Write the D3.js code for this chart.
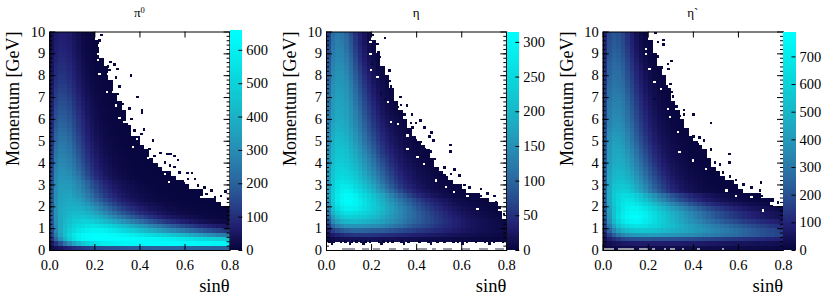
<!DOCTYPE html>
<html>
<head>
<meta charset="utf-8">
<script src="https://cdn.jsdelivr.net/npm/d3@7"></script>
<style>
  body { margin: 0; background: #fff; }
  svg { display: block; }
  text { font-family: "Liberation Serif", serif; fill: #000; }
</style>
</head>
<body>
<svg id="chart" width="830" height="297"></svg>
<script>
// counts per bin, top row is p = 9.8-10, each row starts at sinθ = 0. short rows = empty bins to the right
const pi0Counts = [
[32,58,68,68,58,42,26,13,6,3],
[33,60,71,70,60,44,28,14,7,3],
[35,63,74,73,63,46,30,15,7,3,1],
[37,66,78,76,66,49,32,17,8,4,1],
[40,70,82,80,70,52,34,18,9,4,2],
[42,74,87,85,74,56,37,20,10,5,2],
[44,79,92,90,79,60,40,23,11,6,3,1],
[46,83,97,95,83,64,44,26,13,7,4,2],
[48,87,101,100,87,68,47,28,15,8,4,2,1],
[50,92,106,106,92,72,51,31,17,9,5,3,1],
[53,97,112,111,97,76,55,34,19,10,6,3,2],
[56,103,119,117,103,81,59,38,22,12,7,4,2,1],
[60,110,127,125,110,87,64,42,25,14,8,5,3,1],
[64,117,135,132,117,93,69,47,28,16,9,6,3,2],
[68,125,144,141,125,100,75,52,32,19,11,7,4,2,1],
[72,132,152,149,133,107,81,57,36,22,13,8,5,3,2],
[76,140,161,158,142,114,87,62,40,25,15,9,6,4,2,1],
[80,148,170,166,150,122,94,67,44,28,17,10,7,4,3,1],
[85,155,178,174,158,129,100,72,48,31,19,12,7,5,3,2,1],
[89,162,186,182,166,136,106,77,52,34,21,13,8,5,3,2,1],
[93,170,195,191,174,144,113,83,57,37,23,15,9,6,4,2,2],
[98,178,205,200,183,152,120,89,62,41,26,17,10,7,4,3,2,1],
[103,187,215,210,192,160,127,95,67,45,29,19,12,8,5,3,2,1],
[108,196,225,220,201,168,135,101,73,50,33,22,14,9,6,4,3,2],
[113,205,235,230,210,177,143,108,79,54,37,25,16,10,7,5,3,2,1,1],
[118,215,245,240,220,186,151,116,85,60,41,28,18,12,8,5,4,2,2,1],
[122,224,255,249,230,196,160,124,92,66,46,32,21,14,9,6,4,3,2,1,1],
[127,233,265,258,240,206,169,132,100,72,51,36,24,16,11,7,5,3,2,2,1,1],
[132,242,274,268,250,216,179,141,108,79,57,40,28,19,13,9,6,4,3,2,1,1],
[137,252,283,278,262,228,190,151,117,87,63,45,32,22,15,10,7,5,3,2,2,1,1],
[142,261,291,287,272,240,202,161,126,95,70,50,36,25,18,12,8,6,4,3,2,1,1,1],
[150,270,300,298,285,252,215,173,137,105,78,57,42,30,21,14,10,7,5,3,2,2,1,1,1],
[157,278,310,308,296,265,230,187,150,115,88,66,48,35,25,17,12,9,6,4,3,2,2,1,1,1,1],
[165,285,320,318,310,283,250,205,168,130,100,76,58,43,31,22,16,12,8,6,4,3,2,2,1,1,1,1],
[170,290,328,328,322,300,272,235,198,158,128,100,78,60,47,35,26,20,15,11,8,6,4,3,2,2,1,1,1,1],
[172,293,335,337,332,312,286,250,213,172,142,113,90,71,56,43,33,26,20,15,11,8,6,4,3,2,2,1,1,1,1],
[176,297,342,347,345,326,302,268,232,192,160,130,105,84,67,53,41,32,25,19,14,11,8,6,4,3,2,2,1,1,1,1,1,1],
[180,300,348,357,358,342,320,288,254,216,182,150,123,100,81,65,51,41,32,25,19,15,11,8,6,5,3,3,2,1,1,1,1,1],
[184,304,353,365,371,362,345,315,283,248,214,180,150,125,103,84,68,55,44,35,27,21,16,12,9,7,5,4,3,2,2,1,1,1,1,1,1],
[188,308,358,372,382,380,370,350,322,292,258,222,190,162,137,115,96,80,66,54,44,35,28,22,17,13,10,7,5,4,3,2,2,1,1,1,1,1],
[190,312,363,380,394,398,394,380,360,335,303,268,235,205,178,152,130,110,94,80,66,55,45,37,30,24,18,14,11,8,6,5,4,3,2,2,1,1,1,1],
[190,313,368,390,408,418,420,412,397,378,350,318,284,252,224,196,172,150,130,112,96,82,69,58,48,40,32,26,21,16,13,10,8,6,5,4,3,2,2,1],
[188,310,370,400,422,440,448,447,438,424,402,375,345,312,284,256,230,206,184,163,143,125,108,93,80,68,57,48,40,33,27,22,18,14,11,9,7,6,4,3],
[182,305,372,410,438,465,480,490,490,482,468,448,424,396,368,340,315,288,264,242,220,198,178,158,140,124,109,95,82,71,60,51,43,36,30,25,20,16,13,10],
[172,296,370,418,458,492,518,535,544,548,545,535,518,498,474,450,426,402,378,354,330,308,285,263,242,222,203,185,168,152,138,124,111,99,88,78,69,60,53,46],
[160,285,370,430,480,520,555,580,597,606,610,606,596,580,562,540,520,498,476,454,432,410,388,366,345,325,305,286,268,250,233,217,201,186,172,158,146,134,123,112],
[142,260,360,440,505,560,600,628,640,645,648,648,645,640,632,622,612,600,588,574,560,545,530,514,498,482,465,448,430,412,394,376,358,340,322,305,288,272,256,240],
[110,210,310,400,480,540,590,620,640,648,650,650,650,650,650,650,648,646,644,640,636,630,625,618,612,604,596,587,578,568,558,548,536,524,512,500,488,476,462,450],
[55,105,165,235,300,360,415,460,500,530,555,575,590,600,610,615,620,625,628,630,632,634,635,636,637,637,636,635,634,633,632,631,630,628,626,624,622,620,618,615],
[15,30,45,62,78,95,110,122,133,142,150,157,163,168,172,176,180,183,186,188,190,192,194,195,196,197,198,198,199,199,200,200,200,200,200,200,200,200,200,200]
];

const etaCounts = [
[62,108,120,116,100,76,50,33,20,8],
[66,112,124,118,104,80,54,35,21,9],
[70,114,128,122,107,84,56,38,23,10,4],
[72,118,131,128,110,88,60,40,25,12,5],
[76,120,134,130,114,90,64,43,27,14,6],
[78,124,136,134,120,96,68,47,30,16,8,3],
[82,126,140,138,124,100,72,50,33,18,9,4],
[85,130,144,140,128,104,78,55,36,22,11,5],
[88,134,146,146,133,108,82,60,40,25,14,7,3],
[92,138,150,148,138,112,88,65,45,30,17,10,5],
[96,140,152,152,142,118,92,70,50,33,20,12,6,3],
[98,144,156,154,146,122,96,74,54,36,23,14,8,4],
[102,148,160,158,150,126,100,78,58,40,26,16,10,5],
[104,150,164,160,152,130,106,82,62,44,29,18,11,6,3],
[108,152,166,164,156,134,110,86,66,48,32,21,13,8,4],
[110,156,170,168,158,138,114,92,70,52,36,24,15,9,5],
[112,158,172,170,162,142,118,96,74,56,40,27,17,11,6,3],
[114,160,174,172,164,146,124,100,78,60,44,30,20,13,7,4],
[118,162,178,174,166,148,128,106,82,64,47,34,23,15,9,5,3],
[120,164,180,176,170,150,130,110,86,68,50,38,25,18,12,7,4],
[122,168,182,180,172,154,134,114,90,72,54,41,28,20,14,8,5,3],
[126,172,188,184,176,158,138,118,96,76,58,45,32,23,16,10,6,4],
[130,176,192,188,180,164,144,122,100,82,64,49,36,26,18,12,8,5,3],
[134,180,198,194,186,168,150,128,106,86,68,54,40,30,21,14,10,6,4],
[138,184,204,200,192,174,156,134,112,92,74,58,44,33,24,17,12,8,5,3],
[140,188,208,206,198,180,162,140,118,98,80,63,48,37,27,20,14,9,6,4,2],
[144,192,212,212,204,186,168,148,126,106,86,68,53,41,31,23,16,11,8,5,3,2],
[148,196,216,216,210,192,176,156,134,114,94,74,58,46,35,26,19,13,9,6,4,3,2],
[150,200,220,220,214,198,182,162,142,122,102,82,64,52,40,30,22,16,11,8,5,3,2],
[154,204,224,224,220,206,190,170,150,130,110,90,72,58,45,35,26,19,14,10,7,5,3,2],
[156,208,230,230,226,212,196,178,158,138,118,98,80,64,50,40,30,22,17,12,9,6,4,3],
[158,212,236,238,232,220,204,186,166,146,126,106,88,70,56,45,34,26,20,15,11,8,6,4,2],
[160,216,242,246,240,230,214,196,176,156,136,116,96,78,63,50,39,30,24,18,13,10,7,5,3,2],
[162,220,250,254,250,240,224,206,186,166,146,126,104,86,70,56,44,34,27,21,16,12,9,6,4,3,2],
[164,224,256,264,262,252,236,218,198,178,158,136,114,94,78,62,50,39,31,24,19,14,11,8,5,4,3,2],
[165,226,262,274,276,266,250,232,212,192,172,150,128,106,88,72,58,46,37,29,23,18,13,10,7,5,4,3,2,2],
[166,230,268,284,292,284,268,250,230,210,190,168,146,124,104,88,72,58,48,38,30,24,19,14,11,8,6,4,3,2,2],
[166,234,274,294,304,300,286,268,250,232,212,192,172,150,130,112,96,80,66,54,44,36,29,23,18,14,10,8,6,4,3,2,2,1],
[160,232,276,296,308,308,294,278,260,240,222,204,184,166,146,130,114,98,86,74,62,52,44,36,29,24,19,15,11,9,7,5,4,3,2,1],
[150,224,268,290,300,302,292,278,262,244,228,212,194,176,158,142,126,110,98,85,74,64,54,46,38,32,26,21,17,13,10,8,6,4,3,2,1,1],
[136,210,250,274,286,288,282,270,256,242,228,214,198,182,166,150,136,122,108,96,84,74,64,55,47,40,33,28,23,18,15,12,9,7,5,4,3,2],
[120,190,228,250,260,262,258,250,240,230,218,206,192,178,164,150,138,124,112,101,91,81,71,62,54,47,40,34,29,24,20,16,13,10,8,6,5,4,3],
[100,165,200,220,230,232,230,226,220,212,204,194,182,170,158,146,134,122,112,102,92,84,75,67,59,52,45,39,34,29,24,20,17,14,11,9,7,5,4],
[80,135,168,186,196,200,200,196,192,188,182,174,166,156,146,136,126,116,106,98,90,82,75,68,61,55,49,43,38,33,28,24,20,17,14,12,10,8,6,5],
[55,100,125,140,150,152,154,152,150,148,144,140,134,128,120,112,106,98,91,84,78,72,66,60,55,50,45,40,36,32,28,24,21,18,15,13,11,9,8,6],
[35,60,75,85,92,96,98,98,98,96,94,92,90,86,82,78,74,70,66,62,58,54,50,47,43,40,36,33,30,27,24,21,18,16,14,12,10,9,8,6],
[18,30,38,44,50,52,54,54,54,54,53,52,50,48,46,44,42,40,38,36,34,32,30,28,26,24,22,20,18,17,15,13,12,10,9,8,7,6,5,4],
[6,9,12,14,16,17,18,18,18,18,18,17,17,16,16,15,14,14,13,12,12,11,10,10,9,8,8,7,6,6,5,5,4,4,3,3,3,2,2,2],
[],
[]
];

const etaPrimeCounts = [
[92,180,208,198,168,122,80,42,20,8],
[96,186,214,204,174,128,84,45,22,9],
[100,192,220,210,180,134,90,50,25,10,4],
[104,198,228,218,188,142,96,55,28,12,5],
[108,206,234,226,196,150,102,60,32,15,7],
[112,214,242,234,206,158,110,68,38,19,9,4],
[118,222,250,242,216,168,120,76,44,23,11,5],
[122,230,258,250,224,176,128,84,50,27,14,7],
[126,236,264,258,232,184,136,92,58,32,18,9,4],
[130,242,272,266,242,192,146,100,65,38,22,12,6],
[134,248,278,272,250,200,154,108,72,43,26,14,7,3],
[138,256,286,280,258,210,162,116,78,48,30,17,9,4],
[142,264,294,288,266,218,170,124,86,54,34,20,11,5],
[148,272,302,296,274,228,178,132,94,60,38,23,13,7,3],
[152,280,312,306,284,238,188,140,100,68,43,27,15,9,4],
[156,288,320,316,292,248,196,148,108,75,48,31,18,11,5],
[160,294,328,324,300,256,206,156,116,82,54,35,22,13,7,3],
[164,300,334,332,308,264,214,164,122,88,59,39,25,16,9,4],
[168,306,340,340,316,272,222,172,128,94,64,44,28,18,11,6,3],
[172,314,348,348,324,280,230,180,136,100,70,48,32,21,13,8,4],
[176,322,356,356,332,288,240,188,144,106,76,53,36,24,15,9,5,3],
[182,332,368,366,344,298,250,198,152,114,82,58,40,27,17,11,6,4],
[188,344,380,378,356,310,262,208,162,122,90,64,44,30,20,13,8,5,3],
[194,356,394,392,370,324,274,220,172,132,98,70,50,34,23,15,10,6,4],
[200,368,408,406,384,338,288,232,184,142,106,78,56,39,27,18,12,8,5,3],
[204,378,420,420,398,352,302,246,196,154,116,86,62,44,31,21,14,9,6,4,2],
[208,386,430,432,412,368,318,262,210,166,128,96,70,50,36,25,17,11,7,5,3,2],
[212,392,440,442,426,384,334,278,226,180,140,106,78,57,41,29,20,14,9,6,4,3,2],
[216,398,446,450,436,398,350,294,242,194,152,116,88,64,47,34,24,17,11,8,5,4,3],
[220,404,454,458,446,410,364,310,258,208,166,128,98,72,54,39,28,20,14,10,7,5,3,2],
[224,412,464,470,460,424,380,328,276,226,182,142,108,82,62,46,34,24,17,12,9,6,4,3],
[228,420,476,484,476,442,398,346,294,244,198,158,122,94,70,53,39,29,21,15,11,8,6,4,2],
[232,428,488,500,494,462,420,368,316,264,216,174,138,106,80,61,46,34,25,19,14,10,7,5,3,2],
[238,436,502,516,514,484,444,392,340,286,236,192,154,120,92,71,54,40,30,23,17,12,9,6,4,3,2],
[242,444,516,536,536,510,470,418,366,310,258,212,172,136,106,82,63,48,36,27,20,15,11,8,6,4,3,2,1],
[248,450,530,556,562,538,500,448,396,338,284,236,192,154,122,95,74,57,43,33,25,19,14,10,7,5,4,3,2,1],
[254,456,546,580,592,572,536,484,430,370,314,262,216,176,140,110,87,68,52,40,30,23,17,13,10,7,5,4,3,2,1],
[258,462,560,610,640,640,620,580,530,470,420,370,320,280,240,205,175,150,125,105,88,73,60,49,40,32,26,20,16,13,10,8,6,4,3],
[250,450,560,620,660,668,655,620,575,525,475,425,375,330,288,250,218,190,164,140,120,102,86,72,60,50,41,34,27,22,18,14,11,9,7,5,4,3],
[240,435,550,622,670,695,695,675,640,600,555,508,462,418,376,338,302,270,240,212,187,165,145,126,110,95,82,70,60,51,43,36,30,25,20,16,13],
[228,420,535,620,680,720,730,725,700,665,625,582,540,497,456,418,382,348,316,286,259,234,211,190,170,152,135,120,106,93,81,71,61,53,45,38,32,27,22,18],
[218,408,535,630,695,738,755,755,735,705,670,630,590,550,512,475,440,406,374,344,316,290,265,242,220,200,181,164,148,133,119,106,94,83,73,64,56,49,43,37],
[208,398,535,638,708,750,772,778,755,718,682,642,602,562,525,488,452,418,385,355,325,298,272,248,226,205,186,168,152,137,123,110,98,87,77,68,60,53,47,42],
[190,365,500,600,672,720,740,745,728,700,668,634,600,565,532,498,466,436,407,380,354,330,307,285,265,246,228,211,195,180,166,153,141,130,119,109,100,92,84,76],
[160,305,430,520,585,630,655,665,660,645,628,608,585,560,536,512,488,465,443,420,399,378,358,339,320,302,285,268,252,237,222,208,195,182,170,159,148,138,128,119],
[125,240,340,420,475,515,540,552,555,552,545,535,522,508,494,480,465,450,435,420,405,390,375,360,345,330,315,300,286,272,258,245,232,220,208,196,185,174,164,154],
[80,160,235,295,340,370,390,402,408,410,410,408,404,398,392,385,378,370,362,354,346,338,329,320,310,300,290,280,270,260,250,240,230,220,210,200,190,180,172,164],
[40,80,115,145,170,185,195,200,204,206,206,205,204,202,200,198,195,192,188,184,180,176,172,167,162,157,152,147,142,137,132,127,122,117,112,107,102,98,94,90],
[18,32,45,56,64,70,74,76,78,78,78,78,78,77,76,75,74,73,72,71,70,68,66,64,62,60,58,56,54,52,50,48,46,44,42,40,38,36,34,32],
[8,12,15,18,20,21,22,23,23,23,24,24,24,24,24,24,24,24,24,23,23,23,22,22,22,21,21,20,20,19,19,18,18,17,17,16,16,15,14,14]
];

// lone bins past the edge of the populated region, [sinθ, p]
const pi0Strays = [[.225,9.8],[.218,9.54],[.21,9.2],[.225,8.55],[.267,8.55],[.284,8.44],[.296,8.24],[.262,8.2],[.255,8.35],[.24,8.25],[.29,7.86],[.356,7.95],[.307,7.45],[.30,7.1],[.385,6.95],[.406,6.34],[.406,6.23],[.32,6.64],[.35,6.44],[.358,5.95],[.373,5.42],[.415,5.47],[.403,5.27],[.455,4.96],[.44,4.58],[.462,4.27],[.487,4.4],[.52,4.35],[.533,4.35],[.55,4.27],[.566,4.07],[.507,3.97],[.53,3.82],[.55,3.75],[.573,3.51],[.607,3.47],[.628,3.47],[.61,3.2],[.64,3.2],[.655,2.9],[.684,2.82],[.714,2.67],[.692,2.52],[.756,2.44],[.776,2.64],[.788,2.29],[.729,2.37]];

const etaStrays = [[.257,9.65],[.202,9.8],[.224,9.39],[.21,9.16],[.227,9],[.232,8.78],[.195,8.47],[.224,8.32],[.246,8.24],[.276,8.17],[.261,7.86],[.276,7.7],[.283,7.45],[.283,7.25],[.239,7.13],[.257,6.87],[.29,6.8],[.325,6.95],[.305,6.64],[.328,6.6],[.354,6.56],[.313,6.49],[.298,6.38],[.342,6.15],[.375,6.15],[.413,5.88],[.394,5.77],[.372,5.77],[.431,5.57],[.379,5.57],[.463,5.34],[.453,5.16],[.472,4.96],[.546,4.76],[.546,4.46],[.46,4.46],[.434,4.55],[.416,4.89],[.394,4.96],[.475,4.12],[.453,3.89],[.52,3.74],[.564,3.63],[.549,3.44],[.52,3.36],[.586,3.36],[.608,2.93],[.63,2.82],[.682,2.75],[.711,2.55],[.741,2.44],[.682,2.44],[.66,2.21],[.748,2.14],[.763,1.91],[.711,1.91],[.785,1.6],[.77,1.37],
[.01,.35],[.03,.35],[.06,.35],[.08,.35],[.11,.35],[.13,.35],[.15,.35],[.17,.35],[.19,.35],[.23,.35],[.25,.35],[.27,.35],[.29,.35],[.33,.35],[.36,.35],[.41,.35],[.45,.35],[.49,.35],[.52,.35],[.56,.35],[.58,.35],[.62,.35],[.66,.35],[.70,.35],[.74,.35],[.78,.35],[.02,.25],[.10,.25],[.16,.25],[.24,.25],[.34,.25],[.46,.25],[.6,.25],[.72,.25]];

const etaPrimeStrays = [[.228,9.88],[.24,9.47],[.265,9.56],[.265,9.36],[.24,8.82],[.222,8.7],[.299,8.6],[.284,8.47],[.258,8.32],[.287,8.24],[.218,8.32],[.24,8.02],[.262,7.91],[.296,7.56],[.277,7.45],[.299,7.18],[.277,7.02],[.307,6.99],[.225,6.87],[.321,6.53],[.299,6.41],[.356,6.37],[.356,6.15],[.396,6.15],[.336,6.08],[.474,5.76],[.336,5.57],[.396,5.16],[.425,5.11],[.444,4.96],[.418,4.81],[.474,4.55],[.447,4.35],[.556,4.35],[.556,3.97],[.514,3.86],[.492,3.97],[.529,3.51],[.559,3.33],[.585,3.16],[.618,2.95],[.696,3.05],[.655,2.82],[.692,2.67],[.702,2.44],[.729,2.24],[.773,2.14],[.796,1.91],[.744,1.98]];

// empty bins inside the frayed edge, [sinθ, p]
const pi0Holes = [[.218,9.31],[.21,8.93],[.21,8.63],[.218,8.02],[.255,8.02],[.252,7.18],[.277,7.18],[.292,6.56],[.307,5.98],[.329,5.8],[.351,5.73],[.385,5.04],[.366,4.66],[.433,4.15],[.507,3.44],[.526,3.05],[.596,3.13],[.67,2.37]];
const etaHoles = [[.192,9.47],[.192,8.93],[.195,8.17],[.224,7.86],[.239,7.1],[.269,6.72],[.283,5.8],[.313,5.73],[.357,5.19],[.357,4.58],[.401,4.2],[.431,3.89],[.483,3.13],[.527,2.82],[.564,2.6],[.623,2.44],[.667,1.83]];
const etaPrimeHoles = [[.188,9.16],[.188,8.93],[.203,8.24],[.225,7.63],[.255,7.33],[.284,6.41],[.292,6.03],[.329,5.34],[.336,4.43],[.396,4.05],[.455,3.66],[.544,2.67],[.588,2.44],[.655,2.37],[.707,1.76]];

// half filled stretches of the lowest momentum bins, [sinθ from, sinθ to]
const etaFloor = [[.07,.13],[.16,.19],[.21,.24],[.28,.31],[.34,.37],[.40,.45],[.47,.49],[.52,.56],[.60,.64],[.68,.72],[.75,.79]];
const etaPrimeFloor = [[0,.05],[.07,.14],[.16,.2],[.22,.23],[.27,.28],[.3,.32],[.35,.36],[.42,.43],[.53,.54]];

const xTicks = [0, 0.2, 0.4, 0.6, 0.8];
const yTicks = [0, 1, 2, 3, 4, 5, 6, 7, 8, 9, 10];
const yMinorTicks = d3.range(0, 50).map(i => i * 0.2);
const pi0BarTicks = [0, 100, 200, 300, 400, 500, 600];
const etaBarTicks = [0, 50, 100, 150, 200, 250, 300];
const etaPrimeBarTicks = [0, 100, 200, 300, 400, 500, 600, 700];

const colourStops = ['#08063e', '#221f72', '#27478c', '#2a6ca2', '#288ab2', '#1fa6c0', '#14c0cd', '#0ad6dc', '#05ecec', '#00ffff'];

const panels = [
    { title: 'π', sup: '0', counts: pi0Counts, strays: pi0Strays, holes: pi0Holes, floor: [], max: 655, barTicks: pi0BarTicks, left: 49.3, barLeft: 230 },
    { title: 'η', sup: '', counts: etaCounts, strays: etaStrays, holes: etaHoles, floor: etaFloor, max: 315, barTicks: etaBarTicks, left: 326, barLeft: 507 },
    { title: 'η`', sup: '', counts: etaPrimeCounts, strays: etaPrimeStrays, holes: etaPrimeHoles, floor: etaPrimeFloor, max: 790, barTicks: etaPrimeBarTicks, left: 602.7, barLeft: 783.2 }
];

const plotTop = 31.5, plotBottom = 250, plotWidth = 180.3, barWidth = 12.3;
const binS = 0.02, binP = 0.2, strayS = 0.01, strayP = 0.1;
const svg = d3.select('#chart');

function styleAxis(g) {
    g.selectAll('path, line').attr('stroke', '#000').attr('stroke-width', 1);
    g.selectAll('text').attr('fill', '#000').style('font-size', '14.5px').style('font-family', '"Liberation Serif", serif');
}

panels.forEach((panel, n) => {
    const x = d3.scaleLinear().domain([0, 0.8]).range([panel.left, panel.left + plotWidth]);
    const y = d3.scaleLinear().domain([0, 10]).range([plotBottom, plotTop]);
    const colour = d3.scaleLinear()
        .domain(colourStops.map((c, i) => panel.max * i / (colourStops.length - 1)))
        .range(colourStops)
        .clamp(true);

    svg.append('clipPath').attr('id', `plot-${n}`).append('rect')
        .attr('x', x(0)).attr('y', plotTop).attr('width', plotWidth).attr('height', plotBottom - plotTop);
    const plot = svg.append('g').attr('clip-path', `url(#plot-${n})`).attr('shape-rendering', 'crispEdges');

    // histogram cells
    const cells = panel.counts.flatMap((row, i) =>
        row.map((count, j) => ({ s: j * binS, p: 10 - (i + 1) * binP, count })));
    plot.selectAll('rect.cell').data(cells).join('rect')
        .attr('class', 'cell')
        .attr('x', d => x(d.s))
        .attr('y', d => y(d.p + binP))
        .attr('width', x(binS) - x(0) + 0.3)
        .attr('height', y(0) - y(binP) + 0.3)
        .attr('fill', d => colour(d.count));

    plot.selectAll('rect.hole').data(panel.holes).join('rect')
        .attr('class', 'hole')
        .attr('x', d => x(d[0]))
        .attr('y', d => y(d[1] + strayP))
        .attr('width', x(strayS) - x(0))
        .attr('height', y(0) - y(strayP))
        .attr('fill', '#fff');

    plot.selectAll('rect.stray').data(panel.strays).join('rect')
        .attr('class', 'stray')
        .attr('x', d => x(d[0]))
        .attr('y', d => y(d[1] + strayP))
        .attr('width', x(strayS) - x(0) + 0.3)
        .attr('height', y(0) - y(strayP) + 0.3)
        .attr('fill', colour(3));

    plot.selectAll('rect.floor').data(panel.floor).join('rect')
        .attr('class', 'floor')
        .attr('x', d => x(d[0]))
        .attr('y', y(0.08))
        .attr('width', d => x(d[1]) - x(d[0]))
        .attr('height', y(0) - y(0.08))
        .attr('fill', '#9a9aa6');

    // frame and ticks, all pointing inward
    const xAxis = svg.append('g').attr('transform', `translate(0,${plotBottom})`)
        .call(d3.axisBottom(x).tickValues(xTicks).tickFormat(d3.format('.1f')).tickSizeInner(-6).tickSizeOuter(0).tickPadding(10));
    styleAxis(xAxis);
    const xTop = svg.append('g').attr('transform', `translate(0,${plotTop})`)
        .call(d3.axisTop(x).tickValues(xTicks).tickFormat('').tickSizeInner(-6).tickSizeOuter(0));
    styleAxis(xTop);
    const yAxis = svg.append('g').attr('transform', `translate(${x(0)},0)`)
        .call(d3.axisLeft(y).tickValues(yTicks).tickFormat(d3.format('d')).tickSizeInner(-6).tickSizeOuter(0).tickPadding(4));
    styleAxis(yAxis);
    const yMinor = svg.append('g').attr('transform', `translate(${x(0)},0)`)
        .call(d3.axisLeft(y).tickValues(yMinorTicks).tickFormat('').tickSizeInner(-3).tickSizeOuter(0));
    styleAxis(yMinor);
    const yRight = svg.append('g').attr('transform', `translate(${x(0.8)},0)`)
        .call(d3.axisRight(y).tickValues(yTicks).tickFormat('').tickSizeInner(-6).tickSizeOuter(0));
    styleAxis(yRight);
    const yRightMinor = svg.append('g').attr('transform', `translate(${x(0.8)},0)`)
        .call(d3.axisRight(y).tickValues(yMinorTicks).tickFormat('').tickSizeInner(-3).tickSizeOuter(0));
    styleAxis(yRightMinor);

    // colour bar
    const barScale = d3.scaleLinear().domain([0, panel.max]).range([plotBottom, plotTop]);
    const barSteps = d3.range(0, panel.max, panel.max / 110);
    svg.append('g').attr('shape-rendering', 'crispEdges').selectAll('rect').data(barSteps).join('rect')
        .attr('x', panel.barLeft)
        .attr('y', d => barScale(d + panel.max / 110))
        .attr('width', barWidth)
        .attr('height', barScale(0) - barScale(panel.max / 110) + 0.4)
        .attr('fill', d => colour(d));
    const barAxis = svg.append('g').attr('transform', `translate(${panel.barLeft + barWidth},0)`)
        .call(d3.axisRight(barScale).tickValues(panel.barTicks).tickSizeInner(-4).tickSizeOuter(0).tickPadding(4));
    barAxis.select('.domain').remove();
    styleAxis(barAxis);

    // labels
    svg.append('text')
        .attr('transform', `translate(${x(0) - 30},${plotTop}) rotate(-90)`)
        .attr('text-anchor', 'end')
        .style('font-size', '18px')
        .text('Momentum [GeV]');
    svg.append('text')
        .attr('x', x(0.8))
        .attr('y', 292)
        .attr('text-anchor', 'end')
        .style('font-size', '18.5px')
        .text('sinθ');
    const title = svg.append('text')
        .attr('x', (x(0) + x(0.8)) / 2)
        .attr('y', 17)
        .attr('text-anchor', 'middle')
        .style('font-size', '13px')
        .text(panel.title);
    if (panel.sup) {
        title.append('tspan').attr('dy', -4).style('font-size', '8.5px').text(panel.sup);
    }
});
</script>
</body>
</html>
